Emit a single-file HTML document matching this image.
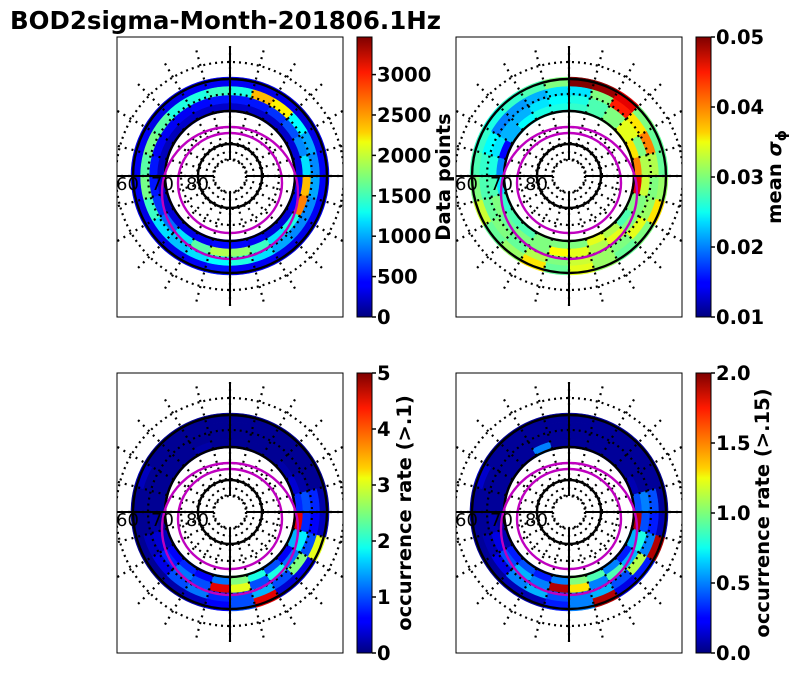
<!DOCTYPE html>
<html><head><meta charset="utf-8"><style>
body{margin:0;background:#fff;}
svg text{font-family:"DejaVu Sans","Liberation Sans",sans-serif;}
</style></head><body>
<svg id="fig" width="798" height="674" xmlns="http://www.w3.org/2000/svg">
<text x="10" y="29" font-size="24.5" font-weight="bold">BOD2sigma-Month-201806.1Hz</text>
<defs>
<linearGradient id="jet" x1="0" y1="1" x2="0" y2="0">
<stop offset="0" stop-color="#00007f"/><stop offset="0.11" stop-color="#0000ff"/>
<stop offset="0.125" stop-color="#0000ff"/><stop offset="0.34" stop-color="#00ddff"/>
<stop offset="0.375" stop-color="#0dfff0"/><stop offset="0.5" stop-color="#7dff7a"/>
<stop offset="0.625" stop-color="#f0ff0d"/><stop offset="0.66" stop-color="#ffd000"/>
<stop offset="0.875" stop-color="#ff1a00"/><stop offset="1" stop-color="#7f0000"/>
</linearGradient>
<clipPath id="c1"><rect x="117" y="37" width="226" height="280"/></clipPath>
<clipPath id="c2"><rect x="456" y="37" width="226" height="280"/></clipPath>
<clipPath id="c3"><rect x="117" y="373" width="226" height="280"/></clipPath>
<clipPath id="c4"><rect x="456" y="373" width="226" height="280"/></clipPath>
</defs>
</svg>
<script>
// angle bins: 24 sectors, 15° each, clockwise from top; radial rows inner->outer
const angleBins = 24;
const p1Row0 = [250,250,250,250,300,300,400,400,300,300,400,450,450,400,350,300,250,250,200,200,200,250,250,250];
const p1Row1 = [500,500,600,700,900,1200,2400,2600,1400,1200,1500,1800,1900,1600,1200,800,600,500,500,400,400,400,450,500];
const p1Row2 = [1400,2400,2200,1300,1000,900,1000,900,900,1000,1200,1400,1300,1200,1100,1200,1500,1700,1600,1700,1600,1400,1400,1500];
const p1Row3 = [400,350,350,300,350,400,400,400,350,350,400,400,500,400,350,350,350,400,400,400,350,350,400,400];
const p2Row0 = [0.027,0.028,0.030,0.034,0.036,0.040,0.046,0.030,0.028,0.032,0.034,0.030,0.030,0.030,0.028,0.028,0.027,0.024,0.020,0.015,0.022,0.025,0.026,0.026];
const p2Row1 = [0.026,0.028,0.030,0.034,0.030,0.032,0.033,0.030,0.030,0.034,0.032,0.034,0.035,0.030,0.030,0.029,0.030,0.028,0.026,0.024,0.022,0.022,0.024,0.025];
const p2Row2 = [0.024,0.030,0.044,0.036,0.040,0.032,0.030,0.031,0.034,0.030,0.031,0.033,0.030,0.032,0.029,0.030,0.029,0.028,0.027,0.025,0.020,0.021,0.022,0.024];
const p2Row3 = [0.050,0.049,0.046,0.030,0.029,0.029,0.031,0.036,0.030,0.029,0.031,0.034,0.029,0.036,0.031,0.029,0.033,0.030,0.028,0.027,0.026,0.027,0.028,0.030];
const p3Row0 = [0.1,0.1,0.1,0.2,0.4,0.8,4.5,1.5,0.6,1.0,2.0,2.5,1.2,0.6,0.8,0.6,0.3,0.1,0.1,0.1,0.1,0.1,0.2,0.1];
const p3Row1 = [0.1,0.1,0.1,0.1,0.2,1.0,0.8,1.8,1.2,2.0,1.0,3.0,4.5,1.0,1.2,0.8,0.4,0.2,0.1,0.1,0.1,0.1,0.1,0.1];
const p3Row2 = [0.1,0.1,0.1,0.1,0.1,0.8,0.6,1.0,2.5,1.0,1.5,1.0,0.8,1.2,1.0,0.5,0.3,0.1,0.1,0.1,0.1,0.1,0.1,0.1];
const p3Row3 = [0.1,0.1,0.1,0.1,0.1,0.2,0.3,3.0,0.5,0.4,4.5,1.0,0.6,0.3,0.2,0.1,0.1,0.1,0.1,0.3,0.1,0.1,0.1,0.1];
const p4Row0 = [0.05,0.05,0.05,0.05,0.1,0.4,1.9,0.6,0.3,0.5,0.9,1.0,0.5,0.3,0.4,0.3,0.1,0.05,0.05,0.05,0.05,0.05,0.5,0.05];
const p4Row1 = [0.05,0.05,0.05,0.05,0.05,0.5,0.4,0.8,0.6,0.9,0.5,1.3,1.9,0.5,0.6,0.4,0.2,0.1,0.05,0.05,0.05,0.05,0.05,0.05];
const p4Row2 = [0.05,0.05,0.05,0.05,0.05,0.4,0.3,0.5,1.1,0.4,0.6,0.5,0.4,0.6,0.5,0.2,0.1,0.05,0.05,0.05,0.05,0.05,0.05,0.05];
const p4Row3 = [0.05,0.05,0.05,0.05,0.05,0.05,0.1,1.9,0.3,0.2,1.9,0.5,0.3,0.1,0.1,0.05,0.05,0.05,0.05,0.15,0.05,0.05,0.05,0.05];
const p1Ticks = [0,500,1000,1500,2000,2500,3000];
const p2Ticks = [0.01,0.02,0.03,0.04,0.05];
const p3Ticks = [0,1,2,3,4,5];
const p4Ticks = [0.0,0.5,1.0,1.5,2.0];
const latLabels = ["60","70","80"];

const NS="http://www.w3.org/2000/svg";
const svg=document.getElementById('fig');
function mk(tag,attrs,parent){const e=document.createElementNS(NS,tag);for(const k in attrs)e.setAttribute(k,attrs[k]);(parent||svg).appendChild(e);return e;}
function jet(t){t=Math.max(0,Math.min(1,t));
 const r=Math.max(0,Math.min(1,1.5-Math.abs(4*t-3)));
 const g=Math.max(0,Math.min(1,1.5-Math.abs(4*t-2)));
 const b=Math.max(0,Math.min(1,1.5-Math.abs(4*t-1)));
 return `rgb(${Math.round(r*255)},${Math.round(g*255)},${Math.round(b*255)})`;}
const ringR=[64,73,81,90,99];
function pt(cx,cy,r,deg){const a=deg*Math.PI/180;return [cx+r*Math.sin(a),cy-r*Math.cos(a)];}
function sector(g,cx,cy,r0,r1,a0,a1,fill){
 const p1=pt(cx,cy,r0,a0),p2=pt(cx,cy,r1,a0),p3=pt(cx,cy,r1,a1),p4=pt(cx,cy,r0,a1);
 const e=mk('path',{d:`M${p1}L${p2}A${r1},${r1} 0 0 1 ${p3}L${p4}A${r0},${r0} 0 0 0 ${p1}Z`,fill:fill,stroke:fill,'stroke-width':0.6},g);
 
 
}
function panel(bx,by,clip,rows,vmin,vmax,ticks,fmt,label,labelX,name){
 const cx=bx+113,cy=by+139;
 const g=mk('g',{'clip-path':`url(#${clip})`});
 
 
 rows.forEach((row,ri)=>{row.forEach((v,i)=>{
   sector(g,cx,cy,ringR[ri],ringR[ri+1],i*360/angleBins,(i+1)*360/angleBins,jet((v-vmin)/(vmax-vmin)));});});
 [16,33,49,82,114].forEach(r=>{const c=mk('circle',{cx:cx,cy:cy,r:r,fill:'none',stroke:'#000','stroke-width':2.2,'stroke-dasharray':'2 4'},g);
   });
 for(let a=0;a<360;a+=15){const p=pt(cx,cy,16,a),q=pt(cx,cy,132,a);
   const l=mk('line',{x1:p[0],y1:p[1],x2:q[0],y2:q[1],stroke:'#000','stroke-width':2.2,'stroke-dasharray':'2 5'},g);
   }
 [32,65,97].forEach(r=>{const c=mk('circle',{cx:cx,cy:cy,r:r,fill:'none',stroke:'#000','stroke-width':2.4},g);
   });
 [[0,17,68],[0,7,52]].forEach(m=>{const c=mk('ellipse',{cx:cx+m[0],cy:cy+m[1],rx:m[2],ry:m[2]-2,fill:'none',stroke:'#bf00bf','stroke-width':2.4},g);
   });
 mk('line',{x1:cx,y1:by+10,x2:cx,y2:cy-16,stroke:'#000','stroke-width':2},g);
 mk('line',{x1:cx,y1:cy+16,x2:cx,y2:by+268,stroke:'#000','stroke-width':2},g);
 mk('line',{x1:bx,y1:cy,x2:cx-16,y2:cy,stroke:'#000','stroke-width':2},g);
 mk('line',{x1:cx+16,y1:cy,x2:bx+226,y2:cy,stroke:'#000','stroke-width':2},g);
 latLabels.forEach((t,i)=>{const e=mk('text',{x:bx-1+i*35,y:cy+14,'font-size':18},g);e.textContent=t;
   });
 const fr=mk('rect',{x:bx,y:by,width:226,height:280,fill:'none',stroke:'#000','stroke-width':1});
 
 const cbx=bx+240;
 const cb=mk('rect',{x:cbx,y:by,width:15,height:280,fill:'url(#jet)',stroke:'#000','stroke-width':1});
 
 ticks.forEach(t=>{const y=by+280-(t-vmin)/(vmax-vmin)*280;
   mk('line',{x1:cbx+15,y1:y,x2:cbx+19,y2:y,stroke:'#000','stroke-width':1.5});
   const e=mk('text',{x:cbx+20,y:y+7,'font-size':19.5,'font-weight':'bold'});e.textContent=fmt(t);
   });
 const lab=mk('text',{x:labelX,y:by+140,'font-size':19.5,'font-weight':'bold','text-anchor':'middle',transform:`rotate(-90 ${labelX} ${by+140})`});
 lab.innerHTML=label;
 
}
panel(117,37,'c1',[p1Row0,p1Row1,p1Row2,p1Row3],0,3465,p1Ticks,t=>String(t),'Data points',450,'panel-data-points');
panel(456,37,'c2',[p2Row0,p2Row1,p2Row2,p2Row3],0.01,0.05,p2Ticks,t=>t.toFixed(2),'mean <tspan font-style="italic">σ</tspan><tspan font-size="14" dy="5">ϕ</tspan>',781,'panel-mean-sigma');
panel(117,373,'c3',[p3Row0,p3Row1,p3Row2,p3Row3],0,5,p3Ticks,t=>String(t),'occurrence rate (&gt;.1)',411,'panel-occurrence-01');
panel(456,373,'c4',[p4Row0,p4Row1,p4Row2,p4Row3],0,2,p4Ticks,t=>t.toFixed(1),'occurrence rate (&gt;.15)',769,'panel-occurrence-015');
</script>
</body></html>
